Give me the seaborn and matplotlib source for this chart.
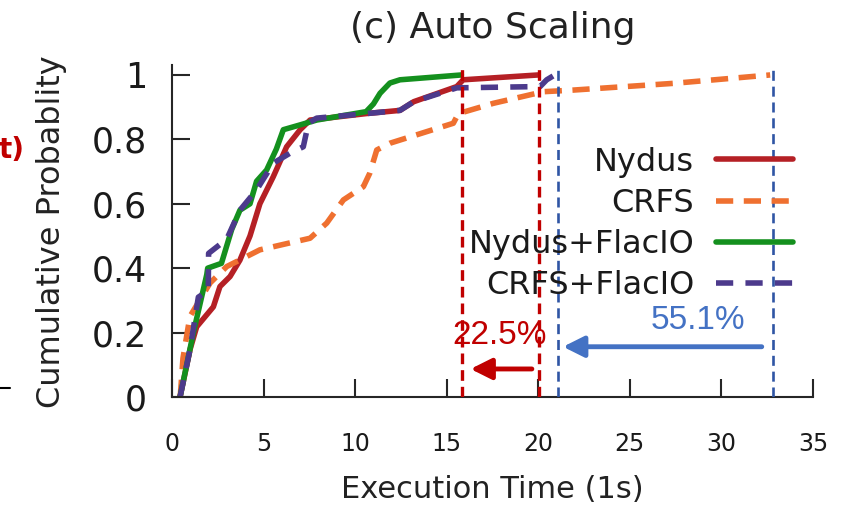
import numpy as np
import pandas as pd
import matplotlib
matplotlib.use("Agg")
import matplotlib.pyplot as plt
from matplotlib.lines import Line2D
import seaborn as sns

# CDF curves (execution time in s, cumulative probability)
nydus_x = [0.44, 1.0, 1.35, 2.26, 2.62, 3.17, 3.71, 4.26, 4.8, 5.53, 6.26, 7.0, 7.54, 10.6, 12.45, 13.2, 15.55, 15.9, 20.0]
nydus_y = [0.0, 0.15, 0.218, 0.28, 0.343, 0.374, 0.425, 0.5, 0.6, 0.684, 0.777, 0.83, 0.86, 0.88, 0.89, 0.917, 0.964, 0.985, 1.0]

crfs_x = [0.45, 0.6, 0.98, 2.08, 2.99, 4.8, 7.54, 8.45, 9.36, 10.45, 10.8, 11.18, 11.9, 15.36, 15.64, 17.55, 20.28, 21.9, 27.4, 32.66]
crfs_y = [0.0, 0.12, 0.25, 0.354, 0.405, 0.457, 0.493, 0.54, 0.612, 0.653, 0.695, 0.767, 0.788, 0.85, 0.88, 0.912, 0.948, 0.953, 0.974, 1.0]

flac_x = [0.44, 1.17, 1.9, 1.95, 2.7, 3.26, 3.71, 4.26, 4.62, 5.17, 5.7, 6.08, 7.0, 7.9, 10.6, 11.0, 11.36, 11.9, 12.45, 15.8]
flac_y = [0.0, 0.2, 0.38, 0.4, 0.415, 0.52, 0.58, 0.6, 0.67, 0.705, 0.77, 0.83, 0.845, 0.86, 0.886, 0.91, 0.943, 0.975, 0.985, 1.0]

crfs_flac_x = [0.44, 0.98, 1.44, 1.98, 2.0, 2.99, 3.71, 4.62, 5.53, 6.44, 7.17, 7.45, 7.9, 10.6, 12.45, 13.2, 15.55, 20.1, 20.46, 20.9]
crfs_flac_y = [0.0, 0.146, 0.31, 0.33, 0.446, 0.49, 0.58, 0.643, 0.726, 0.757, 0.777, 0.85, 0.866, 0.88, 0.89, 0.917, 0.96, 0.964, 0.985, 1.0]

series = ["Nydus", "CRFS", "Nydus+FlacIO", "CRFS+FlacIO"]
colors = ["#b52025", "#ef7030", "#14901e", "#4c3a8c"]

# tail markers (max execution time) and the reductions
red_marks = [15.83, 20.05]
blue_marks = [21.07, 32.8]
red_label = "22.5%"
blue_label = "55.1%"

frames = []
for name, xs, ys in zip(series,
                        [nydus_x, crfs_x, flac_x, crfs_flac_x],
                        [nydus_y, crfs_y, flac_y, crfs_flac_y]):
    frames.append(pd.DataFrame({"time": xs, "cdf": ys, "system": name}))
df = pd.concat(frames, ignore_index=True)

sns.set_style("ticks")
plt.rcParams["font.family"] = ["DejaVu Sans"]

fig = plt.figure(figsize=(8.56, 5.05), dpi=100)
ax = fig.add_axes([0.2009, 0.2139, 0.7489, 0.6568])

lw = 4.0
sns.lineplot(data=df, x="time", y="cdf", hue="system", style="system",
             hue_order=series, style_order=series, palette=colors,
             dashes={"Nydus": "", "CRFS": (3.1, 1.9), "Nydus+FlacIO": "", "CRFS+FlacIO": (3.1, 2.2)},
             estimator=None, sort=False, units="system", linewidth=lw, ax=ax)

for xv in red_marks:
    ax.axvline(xv, ymin=0, ymax=1, color="#c00000", lw=2.4, dashes=(3.2, 1.8), zorder=5)
for xv in blue_marks:
    ax.axvline(xv, ymin=0, ymax=1, color="#2f55a4", lw=1.9, dashes=(3.8, 2.2), zorder=5)

ax.annotate("", xy=(16.3, 0.087), xytext=(19.65, 0.087),
            arrowprops=dict(arrowstyle="-|>,head_length=0.7,head_width=0.35",
                            lw=3.5, color="#c00000", mutation_scale=18, shrinkA=0, shrinkB=0))
ax.annotate("", xy=(21.35, 0.156), xytext=(32.2, 0.156),
            arrowprops=dict(arrowstyle="-|>,head_length=0.7,head_width=0.35",
                            lw=3.5, color="#4472c4", mutation_scale=18, shrinkA=0, shrinkB=0))
ax.text(17.9, 0.19, red_label, color="#c00000", fontsize=24, ha="center", va="center",
        family="Liberation Sans")
ax.text(28.7, 0.237, blue_label, color="#4472c4", fontsize=24, ha="center", va="center",
        family="Liberation Sans")

ax.set_xlim(0, 35)
ax.set_ylim(0, 1.03)
ax.set_xticks([0, 5, 10, 15, 20, 25, 30, 35])
ax.set_yticks([0, 0.2, 0.4, 0.6, 0.8, 1])
ax.set_yticklabels(["0", "0.2", "0.4", "0.6", "0.8", "1"])
ax.tick_params(axis="y", direction="in", length=13, width=1.5, labelsize=25, pad=18,
               labelcolor="#1a1a1a")
ax.tick_params(axis="x", direction="in", length=13, width=1.5, labelsize=17, pad=25,
               labelcolor="#1a1a1a")
for s in ["left", "bottom"]:
    ax.spines[s].set_linewidth(1.5)
sns.despine(ax=ax)

ax.set_xlabel("Execution Time (1s)", fontsize=22, labelpad=14, color="#222222")
ax.set_ylabel("Cumulative Probablity", fontsize=23, labelpad=18, color="#222222")
ax.set_title("(c) Auto Scaling", fontsize=26, pad=20, color="#222222")

handles, labels = ax.get_legend_handles_labels()
leg = ax.legend(handles, labels, loc="upper right", bbox_to_anchor=(0.969, 0.755),
                frameon=False, markerfirst=False, fontsize=23, handlelength=2.4,
                handletextpad=0.7, labelspacing=0.32, borderpad=0, borderaxespad=0)
for h in leg.get_lines():
    h.set_linewidth(lw)
for t in leg.get_texts():
    t.set_color("#1a1a1a")

# clipped pieces of the neighbouring panel
fig.text(-0.002, 1 - 150 / 505, "t)", color="#c00000", fontsize=20, fontweight="bold",
         ha="left", va="center")
fig.add_artist(Line2D([0, 10 / 856], [1 - 388 / 505, 1 - 388 / 505], color="black", lw=1.5))

fig.savefig("out.png", dpi=100)
